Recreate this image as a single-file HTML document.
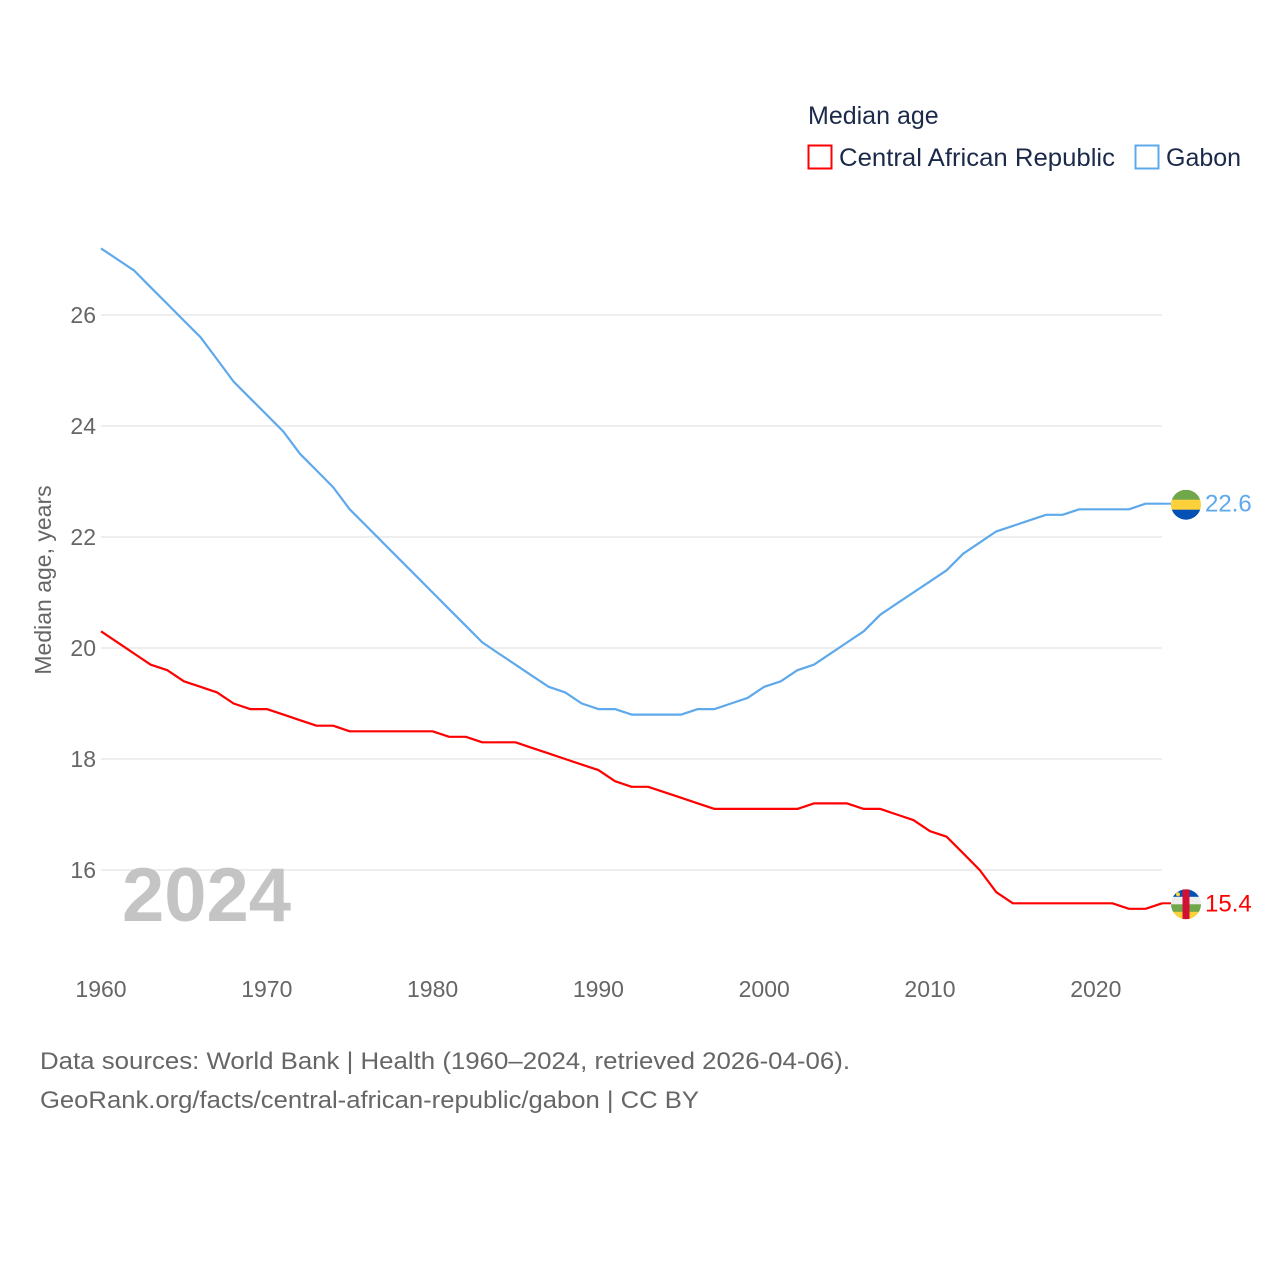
<!DOCTYPE html>
<html><head><meta charset="utf-8"><style>
body{margin:0;background:#fff;}
svg text{font-family:"Liberation Sans",sans-serif;}
</style></head><body>
<svg id="chart" width="1280" height="1280" viewBox="0 0 1280 1280" xmlns="http://www.w3.org/2000/svg">
<g>
<text x="808" y="124" font-size="25" fill="#1b2a4a">Median age</text>
<g><rect x="808.5" y="145.5" width="23" height="23" fill="none" stroke="#ff0000" stroke-width="2"/>
<text x="839" y="166" font-size="25" fill="#1b2a4a" textLength="276" lengthAdjust="spacingAndGlyphs">Central African Republic</text></g>
<g><rect x="1135.5" y="145.5" width="23" height="23" fill="none" stroke="#5ea8ec" stroke-width="2"/>
<text x="1166" y="166" font-size="25" fill="#1b2a4a">Gabon</text></g>
</g>
<g id="grid"></g>
<g id="yticks"></g>
<g id="xticks"></g>
<text transform="translate(51,580) rotate(-90)" text-anchor="middle" font-size="23" fill="#666">Median age, years</text>
<text x="122" y="921" font-size="76" font-weight="bold" fill="#c4c4c4">2024</text>
<g id="series"></g>
<text x="40" y="1069" font-size="24" fill="#666" textLength="810" lengthAdjust="spacingAndGlyphs">Data sources: World Bank | Health (1960–2024, retrieved 2026-04-06).</text>
<text x="40" y="1108" font-size="24" fill="#666" textLength="659" lengthAdjust="spacingAndGlyphs">GeoRank.org/facts/central-african-republic/gabon | CC BY</text>
</svg>
<script>
const years=[];for(let y=1960;y<=2024;y++)years.push(y);
const gabon=[27.2,27.0,26.8,26.5,26.2,25.9,25.6,25.2,24.8,24.5,24.2,23.9,23.5,23.2,22.9,22.5,22.2,21.9,21.6,21.3,21.0,20.7,20.4,20.1,19.9,19.7,19.5,19.3,19.2,19.0,18.9,18.9,18.8,18.8,18.8,18.8,18.9,18.9,19.0,19.1,19.3,19.4,19.6,19.7,19.9,20.1,20.3,20.6,20.8,21.0,21.2,21.4,21.7,21.9,22.1,22.2,22.3,22.4,22.4,22.5,22.5,22.5,22.5,22.6,22.6];
const car=[20.3,20.1,19.9,19.7,19.6,19.4,19.3,19.2,19.0,18.9,18.9,18.8,18.7,18.6,18.6,18.5,18.5,18.5,18.5,18.5,18.5,18.4,18.4,18.3,18.3,18.3,18.2,18.1,18.0,17.9,17.8,17.6,17.5,17.5,17.4,17.3,17.2,17.1,17.1,17.1,17.1,17.1,17.1,17.2,17.2,17.2,17.1,17.1,17.0,16.9,16.7,16.6,16.3,16.0,15.6,15.4,15.4,15.4,15.4,15.4,15.4,15.4,15.3,15.3,15.4];
const yTicks=[16,18,20,22,24,26];
const xTicks=[1960,1970,1980,1990,2000,2010,2020];
const NS="http://www.w3.org/2000/svg";
const xs=y=>101+(y-1960)*16.58;
const ys=v=>648-(v-20)*55.5;
function mk(tag,attrs,parent){const e=document.createElementNS(NS,tag);for(const k in attrs)e.setAttribute(k,attrs[k]);parent.appendChild(e);return e;}
const grid=document.getElementById('grid'),yt=document.getElementById('yticks'),xt=document.getElementById('xticks'),ser=document.getElementById('series');
yTicks.forEach(v=>{
 const l=mk('line',{x1:101,x2:1162,y1:ys(v),y2:ys(v),stroke:'#e8e8e8','stroke-width':1.5},grid);
 
 
 const t=mk('text',{x:96,y:ys(v)+8,'text-anchor':'end','font-size':23,fill:'#666'},yt);t.textContent=v;
 
 
});
xTicks.forEach(v=>{
 const t=mk('text',{x:xs(v),y:997,'text-anchor':'middle','font-size':23,fill:'#666'},xt);t.textContent=v;
 
 
});
function line(data,color,name){
 const d=data.map((v,i)=>(i?'L':'M')+xs(years[i]).toFixed(1)+','+ys(v).toFixed(1)).join('');
 const p=mk('path',{d:d,fill:'none',stroke:color,'stroke-width':2.2,'stroke-linejoin':'round'},ser);
 
 
}
line(gabon,'#5ea8ec','gabon-line');
line(car,'#ff0000','car-line');
const gL=gabon[gabon.length-1],cL=car[car.length-1];
const fx=1186;
function flag(cy,stripes,name,extra){
 const g=mk('g',{},ser);
 
 
 const id=name+'-clip';
 const cp=mk('clipPath',{id:id},g);mk('circle',{cx:fx,cy:cy,r:15},cp);
 const inner=mk('g',{'clip-path':'url(#'+id+')'},g);
 const h=30/stripes.length;
 stripes.forEach((c,i)=>mk('rect',{x:fx-15,y:cy-15+i*h,width:30,height:h+0.5,fill:c},inner));
 if(extra)extra(inner,cy);
}
mk('line',{x1:1162,x2:1171,y1:ys(gL),y2:ys(gL),stroke:'#5ea8ec','stroke-width':2},ser);
mk('line',{x1:1162,x2:1171,y1:ys(cL),y2:ys(cL),stroke:'#ff0000','stroke-width':2},ser);
flag(ys(gL)+1,['#6fa74a','#fcd13b','#0450b4'],'gabon-flag');
flag(ys(cL)+1,['#0450b4','#eeeeee','#6fa74a','#fcd13b'],'car-flag',(g,cy)=>{mk('rect',{x:fx-3.5,y:cy-15,width:7,height:30,fill:'#d21034'},g);mk('circle',{cx:fx-8,cy:cy-10,r:2,fill:'#fcd13b'},g);});
const t1=mk('text',{x:1205,y:ys(gL)+8,'font-size':24,fill:'#5ea8ec'},ser);t1.textContent=gL.toFixed(1);


const t2=mk('text',{x:1205,y:ys(cL)+8,'font-size':24,fill:'#ff0000'},ser);t2.textContent=cL.toFixed(1);


</script>
</body></html>
